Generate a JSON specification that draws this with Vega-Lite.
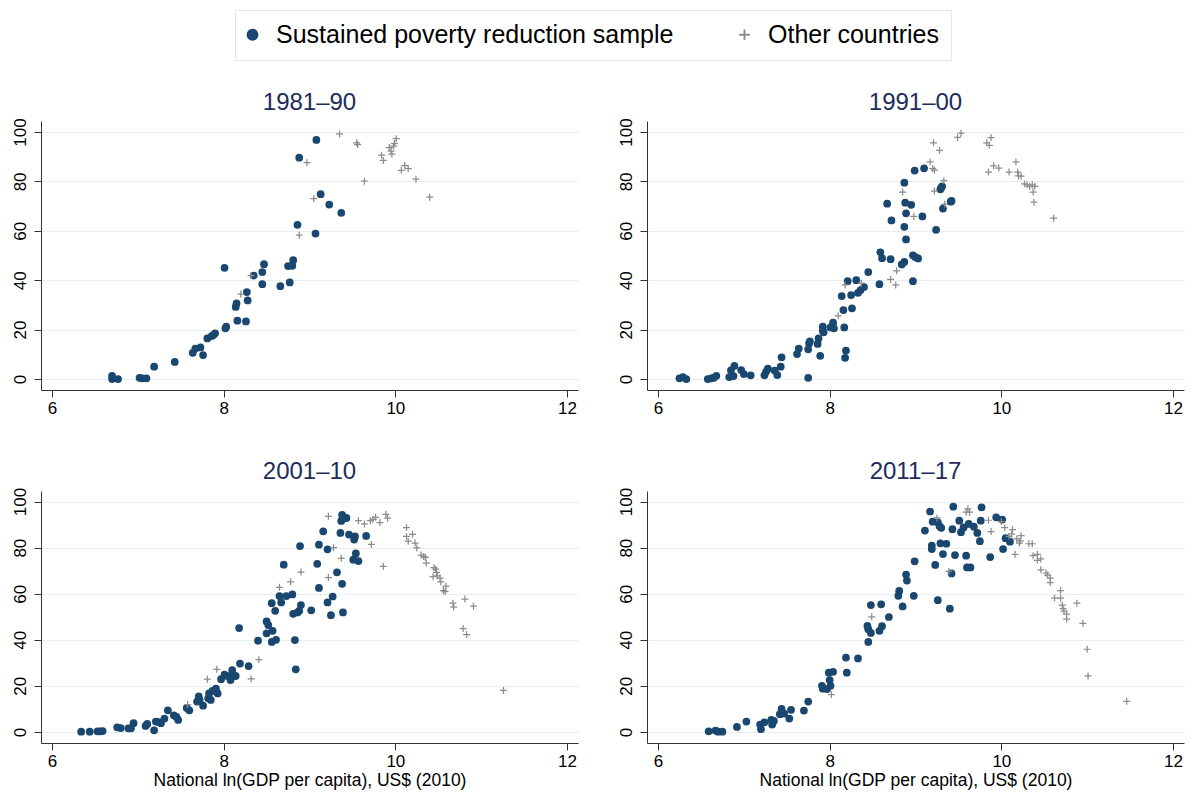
{
"$schema": "https://vega.github.io/schema/vega-lite/v6.json",
"padding": {"left": 10, "top": 9, "right": 5, "bottom": 4},
"background": "white",
"datasets": {
"p1": [
{"x":6.70,"y":1.3,"g":"s"},{"x":6.70,"y":0,"g":"s"},{"x":6.77,"y":0,"g":"s"},{"x":7.02,"y":0.5,"g":"s"},{"x":7.05,"y":0.3,"g":"s"},{"x":7.10,"y":0.3,"g":"s"},{"x":7.19,"y":5.0,"g":"s"},{"x":7.43,"y":6.9,"g":"s"},{"x":7.64,"y":10.6,"g":"s"},{"x":7.67,"y":12.3,"g":"s"},{"x":7.73,"y":12.8,"g":"s"},{"x":7.76,"y":9.7,"g":"s"},{"x":7.81,"y":16.4,"g":"s"},{"x":7.86,"y":17.4,"g":"s"},{"x":7.88,"y":17.8,"g":"s"},{"x":7.90,"y":18.5,"g":"s"},{"x":8.01,"y":45.0,"g":"s"},{"x":8.03,"y":21.2,"g":"s"},{"x":8.02,"y":20.5,"g":"s"},{"x":8.14,"y":29.2,"g":"s"},{"x":8.15,"y":30.6,"g":"s"},{"x":8.16,"y":23.6,"g":"s"},{"x":8.26,"y":23.3,"g":"s"},{"x":8.27,"y":35.2,"g":"s"},{"x":8.28,"y":31.8,"g":"s"},{"x":8.35,"y":41.9,"g":"s"},{"x":8.45,"y":38.4,"g":"s"},{"x":8.45,"y":43.3,"g":"s"},{"x":8.47,"y":46.5,"g":"s"},{"x":8.66,"y":37.6,"g":"s"},{"x":8.75,"y":45.7,"g":"s"},{"x":8.77,"y":39.1,"g":"s"},{"x":8.80,"y":45.8,"g":"s"},{"x":8.81,"y":48.1,"g":"s"},{"x":8.86,"y":62.4,"g":"s"},{"x":8.88,"y":89.6,"g":"s"},{"x":9.07,"y":58.9,"g":"s"},{"x":9.08,"y":96.8,"g":"s"},{"x":9.13,"y":74.8,"g":"s"},{"x":9.23,"y":70.6,"g":"s"},{"x":9.37,"y":67.3,"g":"s"},
{"x":8.20,"y":34.4,"g":"o"},{"x":8.32,"y":41.9,"g":"o"},{"x":8.88,"y":58.2,"g":"o"},{"x":8.97,"y":87.6,"g":"o"},{"x":9.05,"y":73.0,"g":"o"},{"x":9.35,"y":99.2,"g":"o"},{"x":9.55,"y":95.6,"g":"o"},{"x":9.56,"y":94.9,"g":"o"},{"x":9.64,"y":80.1,"g":"o"},{"x":9.84,"y":90.6,"g":"o"},{"x":9.86,"y":88.5,"g":"o"},{"x":9.93,"y":93.7,"g":"o"},{"x":9.95,"y":92.3,"g":"o"},{"x":9.96,"y":91.0,"g":"o"},{"x":9.98,"y":94.3,"g":"o"},{"x":9.99,"y":95.3,"g":"o"},{"x":10.01,"y":97.3,"g":"o"},{"x":10.07,"y":84.5,"g":"o"},{"x":10.11,"y":86.4,"g":"o"},{"x":10.15,"y":85.2,"g":"o"},{"x":10.24,"y":80.9,"g":"o"},{"x":10.40,"y":73.6,"g":"o"}
],
"p2": [
{"x":6.25,"y":0.3,"g":"s"},{"x":6.29,"y":0.8,"g":"s"},{"x":6.33,"y":0,"g":"s"},{"x":6.58,"y":0,"g":"s"},{"x":6.62,"y":0.3,"g":"s"},{"x":6.65,"y":0.5,"g":"s"},{"x":6.68,"y":1.3,"g":"s"},{"x":6.83,"y":0.8,"g":"s"},{"x":6.85,"y":3.5,"g":"s"},{"x":6.88,"y":1.2,"g":"s"},{"x":6.89,"y":5.3,"g":"s"},{"x":6.97,"y":3.6,"g":"s"},{"x":7.00,"y":2.0,"g":"s"},{"x":7.08,"y":1.5,"g":"s"},{"x":7.24,"y":1.5,"g":"s"},{"x":7.26,"y":3.0,"g":"s"},{"x":7.28,"y":4.2,"g":"s"},{"x":7.36,"y":3.4,"g":"s"},{"x":7.39,"y":1.6,"g":"s"},{"x":7.43,"y":5.0,"g":"s"},{"x":7.44,"y":8.8,"g":"s"},{"x":7.62,"y":10.1,"g":"s"},{"x":7.64,"y":12.3,"g":"s"},{"x":7.75,"y":0.5,"g":"s"},{"x":7.75,"y":12.0,"g":"s"},{"x":7.76,"y":14.4,"g":"s"},{"x":7.77,"y":15.2,"g":"s"},{"x":7.86,"y":14.2,"g":"s"},{"x":7.87,"y":16.4,"g":"s"},{"x":7.89,"y":9.4,"g":"s"},{"x":7.92,"y":19.5,"g":"s"},{"x":7.92,"y":21.2,"g":"s"},{"x":7.93,"y":18.9,"g":"s"},{"x":8.01,"y":20.9,"g":"s"},{"x":8.04,"y":22.8,"g":"s"},{"x":8.05,"y":20.5,"g":"s"},{"x":8.14,"y":33.6,"g":"s"},{"x":8.16,"y":27.9,"g":"s"},{"x":8.17,"y":20.9,"g":"s"},{"x":8.19,"y":11.5,"g":"s"},{"x":8.18,"y":8.6,"g":"s"},{"x":8.21,"y":39.6,"g":"s"},{"x":8.25,"y":34.0,"g":"s"},{"x":8.26,"y":28.6,"g":"s"},{"x":8.31,"y":40.0,"g":"s"},{"x":8.33,"y":34.9,"g":"s"},{"x":8.36,"y":36.0,"g":"s"},{"x":8.40,"y":37.2,"g":"s"},{"x":8.45,"y":43.3,"g":"s"},{"x":8.58,"y":38.4,"g":"s"},{"x":8.59,"y":51.3,"g":"s"},{"x":8.61,"y":48.9,"g":"s"},{"x":8.67,"y":71.0,"g":"s"},{"x":8.71,"y":48.5,"g":"s"},{"x":8.72,"y":64.2,"g":"s"},{"x":8.84,"y":46.4,"g":"s"},{"x":8.87,"y":47.4,"g":"s"},{"x":8.87,"y":61.6,"g":"s"},{"x":8.87,"y":79.5,"g":"s"},{"x":8.88,"y":71.4,"g":"s"},{"x":8.89,"y":67.1,"g":"s"},{"x":8.89,"y":56.5,"g":"s"},{"x":8.95,"y":70.5,"g":"s"},{"x":8.97,"y":39.6,"g":"s"},{"x":8.97,"y":50.1,"g":"s"},{"x":9.00,"y":49.3,"g":"s"},{"x":9.03,"y":48.8,"g":"s"},{"x":8.99,"y":84.4,"g":"s"},{"x":9.08,"y":65.8,"g":"s"},{"x":9.10,"y":85.3,"g":"s"},{"x":9.24,"y":60.4,"g":"s"},{"x":9.29,"y":76.8,"g":"s"},{"x":9.30,"y":77.5,"g":"s"},{"x":9.31,"y":78.0,"g":"s"},{"x":9.32,"y":69.0,"g":"s"},{"x":9.41,"y":71.8,"g":"s"},{"x":9.42,"y":72.1,"g":"s"},
{"x":8.10,"y":25.6,"g":"o"},{"x":8.18,"y":38.1,"g":"o"},{"x":8.37,"y":38.8,"g":"o"},{"x":8.71,"y":40.3,"g":"o"},{"x":8.77,"y":38.1,"g":"o"},{"x":8.78,"y":43.8,"g":"o"},{"x":8.85,"y":75.7,"g":"o"},{"x":8.98,"y":65.8,"g":"o"},{"x":9.17,"y":87.9,"g":"o"},{"x":9.20,"y":85.2,"g":"o"},{"x":9.22,"y":84.6,"g":"o"},{"x":9.21,"y":95.6,"g":"o"},{"x":9.28,"y":92.6,"g":"o"},{"x":9.22,"y":76.1,"g":"o"},{"x":9.33,"y":80.3,"g":"o"},{"x":9.34,"y":70.8,"g":"o"},{"x":9.49,"y":97.8,"g":"o"},{"x":9.53,"y":99.5,"g":"o"},{"x":9.83,"y":95.6,"g":"o"},{"x":9.86,"y":94.6,"g":"o"},{"x":9.88,"y":97.7,"g":"o"},{"x":9.85,"y":83.8,"g":"o"},{"x":9.91,"y":86.3,"g":"o"},{"x":9.97,"y":85.4,"g":"o"},{"x":10.09,"y":83.8,"g":"o"},{"x":10.17,"y":87.9,"g":"o"},{"x":10.19,"y":83.8,"g":"o"},{"x":10.20,"y":82.2,"g":"o"},{"x":10.23,"y":82.1,"g":"o"},{"x":10.27,"y":79.0,"g":"o"},{"x":10.30,"y":78.6,"g":"o"},{"x":10.33,"y":78.0,"g":"o"},{"x":10.36,"y":78.6,"g":"o"},{"x":10.37,"y":75.7,"g":"o"},{"x":10.39,"y":78.0,"g":"o"},{"x":10.38,"y":71.6,"g":"o"},{"x":10.61,"y":65.1,"g":"o"}
],
"p3": [
{"x":6.34,"y":0.1,"g":"s"},{"x":6.44,"y":0.1,"g":"s"},{"x":6.53,"y":0.3,"g":"s"},{"x":6.56,"y":0.3,"g":"s"},{"x":6.59,"y":0.4,"g":"s"},{"x":6.76,"y":2.0,"g":"s"},{"x":6.80,"y":1.7,"g":"s"},{"x":6.89,"y":1.6,"g":"s"},{"x":6.92,"y":1.6,"g":"s"},{"x":6.95,"y":3.8,"g":"s"},{"x":7.09,"y":2.6,"g":"s"},{"x":7.11,"y":3.5,"g":"s"},{"x":7.19,"y":0.7,"g":"s"},{"x":7.21,"y":4.5,"g":"s"},{"x":7.24,"y":4.3,"g":"s"},{"x":7.27,"y":3.8,"g":"s"},{"x":7.31,"y":5.8,"g":"s"},{"x":7.35,"y":9.4,"g":"s"},{"x":7.42,"y":7.2,"g":"s"},{"x":7.45,"y":6.5,"g":"s"},{"x":7.47,"y":5.2,"g":"s"},{"x":7.57,"y":10.4,"g":"s"},{"x":7.60,"y":9.4,"g":"s"},{"x":7.69,"y":13.2,"g":"s"},{"x":7.71,"y":15.4,"g":"s"},{"x":7.72,"y":13.8,"g":"s"},{"x":7.76,"y":11.4,"g":"s"},{"x":7.82,"y":14.6,"g":"s"},{"x":7.83,"y":16.7,"g":"s"},{"x":7.85,"y":13.9,"g":"s"},{"x":7.87,"y":17.8,"g":"s"},{"x":7.91,"y":18.8,"g":"s"},{"x":7.93,"y":16.7,"g":"s"},{"x":7.97,"y":22.9,"g":"s"},{"x":8.01,"y":24.9,"g":"s"},{"x":8.05,"y":24.2,"g":"s"},{"x":8.08,"y":22.5,"g":"s"},{"x":8.10,"y":26.8,"g":"s"},{"x":8.12,"y":24.2,"g":"s"},{"x":8.14,"y":24.3,"g":"s"},{"x":8.19,"y":29.7,"g":"s"},{"x":8.18,"y":45.1,"g":"s"},{"x":8.29,"y":28.6,"g":"s"},{"x":8.40,"y":39.6,"g":"s"},{"x":8.50,"y":48.0,"g":"s"},{"x":8.50,"y":42.8,"g":"s"},{"x":8.52,"y":46.4,"g":"s"},{"x":8.56,"y":55.9,"g":"s"},{"x":8.56,"y":39.1,"g":"s"},{"x":8.57,"y":43.9,"g":"s"},{"x":8.60,"y":52.6,"g":"s"},{"x":8.61,"y":40.0,"g":"s"},{"x":8.65,"y":59.0,"g":"s"},{"x":8.67,"y":56.2,"g":"s"},{"x":8.70,"y":72.6,"g":"s"},{"x":8.73,"y":59.0,"g":"s"},{"x":8.80,"y":59.7,"g":"s"},{"x":8.81,"y":51.3,"g":"s"},{"x":8.83,"y":39.9,"g":"s"},{"x":8.84,"y":27.2,"g":"s"},{"x":8.86,"y":51.9,"g":"s"},{"x":8.88,"y":52.6,"g":"s"},{"x":8.89,"y":80.7,"g":"s"},{"x":8.90,"y":55.1,"g":"s"},{"x":9.02,"y":52.8,"g":"s"},{"x":9.09,"y":73.0,"g":"s"},{"x":9.11,"y":81.3,"g":"s"},{"x":9.11,"y":62.5,"g":"s"},{"x":9.16,"y":87.1,"g":"s"},{"x":9.21,"y":56.2,"g":"s"},{"x":9.21,"y":79.3,"g":"s"},{"x":9.25,"y":50.7,"g":"s"},{"x":9.27,"y":58.8,"g":"s"},{"x":9.32,"y":69.3,"g":"s"},{"x":9.36,"y":86.4,"g":"s"},{"x":9.37,"y":91.6,"g":"s"},{"x":9.38,"y":94.2,"g":"s"},{"x":9.38,"y":64.3,"g":"s"},{"x":9.39,"y":51.9,"g":"s"},{"x":9.41,"y":92.9,"g":"s"},{"x":9.43,"y":92.9,"g":"s"},{"x":9.46,"y":85.7,"g":"s"},{"x":9.51,"y":74.8,"g":"s"},{"x":9.52,"y":83.5,"g":"s"},{"x":9.53,"y":84.9,"g":"s"},{"x":9.54,"y":77.5,"g":"s"},{"x":9.57,"y":74.2,"g":"s"},{"x":9.66,"y":85.1,"g":"s"},
{"x":7.58,"y":11.9,"g":"o"},{"x":7.81,"y":22.9,"g":"o"},{"x":7.92,"y":27.2,"g":"o"},{"x":8.32,"y":23.0,"g":"o"},{"x":8.41,"y":31.4,"g":"o"},{"x":8.65,"y":62.8,"g":"o"},{"x":8.78,"y":65.2,"g":"o"},{"x":8.90,"y":69.4,"g":"o"},{"x":9.22,"y":93.6,"g":"o"},{"x":9.22,"y":67.0,"g":"o"},{"x":9.28,"y":80.0,"g":"o"},{"x":9.37,"y":75.4,"g":"o"},{"x":9.57,"y":91.7,"g":"o"},{"x":9.64,"y":90.3,"g":"o"},{"x":9.71,"y":91.7,"g":"o"},{"x":9.74,"y":92.3,"g":"o"},{"x":9.77,"y":93.2,"g":"o"},{"x":9.72,"y":81.4,"g":"o"},{"x":9.82,"y":90.9,"g":"o"},{"x":9.86,"y":71.9,"g":"o"},{"x":9.89,"y":94.5,"g":"o"},{"x":9.91,"y":92.8,"g":"o"},{"x":10.13,"y":88.7,"g":"o"},{"x":10.13,"y":84.9,"g":"o"},{"x":10.15,"y":82.8,"g":"o"},{"x":10.20,"y":85.8,"g":"o"},{"x":10.23,"y":82.0,"g":"o"},{"x":10.25,"y":79.9,"g":"o"},{"x":10.30,"y":76.8,"g":"o"},{"x":10.33,"y":76.2,"g":"o"},{"x":10.35,"y":75.8,"g":"o"},{"x":10.36,"y":73.3,"g":"o"},{"x":10.45,"y":71.3,"g":"o"},{"x":10.47,"y":70.7,"g":"o"},{"x":10.48,"y":69.3,"g":"o"},{"x":10.44,"y":67.4,"g":"o"},{"x":10.49,"y":67.8,"g":"o"},{"x":10.52,"y":66.8,"g":"o"},{"x":10.53,"y":65.2,"g":"o"},{"x":10.56,"y":61.4,"g":"o"},{"x":10.58,"y":60.9,"g":"o"},{"x":10.59,"y":63.3,"g":"o"},{"x":10.67,"y":55.9,"g":"o"},{"x":10.68,"y":54.2,"g":"o"},{"x":10.81,"y":57.7,"g":"o"},{"x":10.79,"y":44.9,"g":"o"},{"x":10.83,"y":42.3,"g":"o"},{"x":10.91,"y":54.6,"g":"o"},{"x":11.26,"y":18.0,"g":"o"}
],
"p4": [
{"x":6.59,"y":0.3,"g":"s"},{"x":6.67,"y":0.6,"g":"s"},{"x":6.70,"y":0.1,"g":"s"},{"x":6.75,"y":0.1,"g":"s"},{"x":6.92,"y":2.2,"g":"s"},{"x":7.03,"y":4.5,"g":"s"},{"x":7.19,"y":3.2,"g":"s"},{"x":7.20,"y":1.2,"g":"s"},{"x":7.24,"y":4.2,"g":"s"},{"x":7.32,"y":5.2,"g":"s"},{"x":7.33,"y":3.2,"g":"s"},{"x":7.35,"y":4.8,"g":"s"},{"x":7.42,"y":7.7,"g":"s"},{"x":7.44,"y":10.0,"g":"s"},{"x":7.47,"y":8.0,"g":"s"},{"x":7.53,"y":5.8,"g":"s"},{"x":7.55,"y":9.6,"g":"s"},{"x":7.70,"y":9.3,"g":"s"},{"x":7.75,"y":13.2,"g":"s"},{"x":7.91,"y":20.0,"g":"s"},{"x":7.92,"y":18.8,"g":"s"},{"x":7.97,"y":18.6,"g":"s"},{"x":7.99,"y":25.7,"g":"s"},{"x":8.00,"y":22.5,"g":"s"},{"x":8.01,"y":20.0,"g":"s"},{"x":8.04,"y":26.1,"g":"s"},{"x":8.19,"y":32.3,"g":"s"},{"x":8.20,"y":25.7,"g":"s"},{"x":8.33,"y":31.9,"g":"s"},{"x":8.45,"y":39.1,"g":"s"},{"x":8.44,"y":46.1,"g":"s"},{"x":8.45,"y":44.6,"g":"s"},{"x":8.48,"y":43.0,"g":"s"},{"x":8.48,"y":55.1,"g":"s"},{"x":8.58,"y":43.9,"g":"s"},{"x":8.61,"y":45.9,"g":"s"},{"x":8.60,"y":55.4,"g":"s"},{"x":8.69,"y":49.9,"g":"s"},{"x":8.80,"y":59.1,"g":"s"},{"x":8.81,"y":61.2,"g":"s"},{"x":8.85,"y":54.5,"g":"s"},{"x":8.89,"y":68.3,"g":"s"},{"x":8.90,"y":65.7,"g":"s"},{"x":8.98,"y":59.1,"g":"s"},{"x":8.99,"y":74.1,"g":"s"},{"x":9.11,"y":87.4,"g":"s"},{"x":9.17,"y":95.7,"g":"s"},{"x":9.19,"y":80.9,"g":"s"},{"x":9.19,"y":79.4,"g":"s"},{"x":9.20,"y":91.3,"g":"s"},{"x":9.23,"y":72.5,"g":"s"},{"x":9.26,"y":57.2,"g":"s"},{"x":9.26,"y":91.0,"g":"s"},{"x":9.28,"y":89.3,"g":"s"},{"x":9.29,"y":81.9,"g":"s"},{"x":9.30,"y":88.6,"g":"s"},{"x":9.32,"y":77.2,"g":"s"},{"x":9.36,"y":81.7,"g":"s"},{"x":9.40,"y":53.5,"g":"s"},{"x":9.42,"y":68.8,"g":"s"},{"x":9.43,"y":88.0,"g":"s"},{"x":9.44,"y":97.8,"g":"s"},{"x":9.46,"y":76.8,"g":"s"},{"x":9.51,"y":91.7,"g":"s"},{"x":9.53,"y":86.7,"g":"s"},{"x":9.56,"y":88.8,"g":"s"},{"x":9.59,"y":76.5,"g":"s"},{"x":9.60,"y":71.4,"g":"s"},{"x":9.62,"y":90.3,"g":"s"},{"x":9.64,"y":71.4,"g":"s"},{"x":9.68,"y":89.1,"g":"s"},{"x":9.72,"y":86.4,"g":"s"},{"x":9.75,"y":82.8,"g":"s"},{"x":9.76,"y":91.7,"g":"s"},{"x":9.77,"y":97.5,"g":"s"},{"x":9.87,"y":75.9,"g":"s"},{"x":9.94,"y":93.2,"g":"s"},{"x":10.01,"y":92.2,"g":"s"},{"x":10.02,"y":79.4,"g":"s"},{"x":10.05,"y":84.1,"g":"s"},{"x":10.10,"y":82.6,"g":"s"},
{"x":8.02,"y":16.2,"g":"o"},{"x":8.49,"y":50.0,"g":"o"},{"x":9.25,"y":92.9,"g":"o"},{"x":9.39,"y":69.7,"g":"o"},{"x":9.59,"y":95.4,"g":"o"},{"x":9.61,"y":96.8,"g":"o"},{"x":9.63,"y":95.4,"g":"o"},{"x":9.85,"y":91.9,"g":"o"},{"x":9.88,"y":87.0,"g":"o"},{"x":10.00,"y":91.3,"g":"o"},{"x":10.04,"y":88.7,"g":"o"},{"x":10.09,"y":84.9,"g":"o"},{"x":10.12,"y":85.9,"g":"o"},{"x":10.13,"y":87.8,"g":"o"},{"x":10.16,"y":77.1,"g":"o"},{"x":10.18,"y":83.8,"g":"o"},{"x":10.21,"y":82.0,"g":"o"},{"x":10.23,"y":85.2,"g":"o"},{"x":10.22,"y":82.9,"g":"o"},{"x":10.32,"y":81.7,"g":"o"},{"x":10.36,"y":81.7,"g":"o"},{"x":10.37,"y":76.5,"g":"o"},{"x":10.42,"y":77.1,"g":"o"},{"x":10.42,"y":74.5,"g":"o"},{"x":10.46,"y":75.1,"g":"o"},{"x":10.46,"y":70.4,"g":"o"},{"x":10.52,"y":69.0,"g":"o"},{"x":10.54,"y":68.1,"g":"o"},{"x":10.57,"y":66.8,"g":"o"},{"x":10.57,"y":64.8,"g":"o"},{"x":10.62,"y":58.1,"g":"o"},{"x":10.69,"y":61.4,"g":"o"},{"x":10.69,"y":58.1,"g":"o"},{"x":10.71,"y":55.1,"g":"o"},{"x":10.72,"y":53.5,"g":"o"},{"x":10.73,"y":52.5,"g":"o"},{"x":10.76,"y":51.2,"g":"o"},{"x":10.76,"y":49.0,"g":"o"},{"x":10.88,"y":55.9,"g":"o"},{"x":10.95,"y":47.1,"g":"o"},{"x":11.00,"y":35.9,"g":"o"},{"x":11.01,"y":24.3,"g":"o"},{"x":11.46,"y":13.3,"g":"o"}
]
},
"vconcat": [
{"hconcat": [
{"data": {"name": "p1"}, "width": 537, "height": 269, "title": "1981–90",
 "mark": {"type": "point", "filled": true, "size": 60, "opacity": 1, "strokeWidth": 0},
 "encoding": {
  "x": {"field": "x", "type": "quantitative", "scale": {"domain": [5.872, 12.128], "nice": false, "zero": false}, "axis": {"values": [6, 8, 10, 12], "title": null}},
  "y": {"field": "y", "type": "quantitative", "scale": {"domain": [-4.45, 104.45], "nice": false, "zero": false}, "axis": {"values": [0, 20, 40, 60, 80, 100], "title": null}},
  "color": {"field": "g", "type": "nominal", "scale": {"domain": ["s", "o"], "range": ["#1a476f", "#8c8c8c"]}, "legend": {"title": null, "labelExpr": "datum.value == 's' ? 'Sustained poverty reduction sample' : 'Other countries'"}},
  "shape": {"field": "g", "type": "nominal", "scale": {"domain": ["s", "o"], "range": ["circle", "M-0.9,-0.16H-0.16V-0.9H0.16V-0.16H0.9V0.16H0.16V0.9H-0.16V0.16H-0.9Z"]}, "legend": {"title": null, "labelExpr": "datum.value == 's' ? 'Sustained poverty reduction sample' : 'Other countries'"}}
 }},
{"data": {"name": "p2"}, "width": 537, "height": 269, "title": "1991–00",
 "mark": {"type": "point", "filled": true, "size": 60, "opacity": 1, "strokeWidth": 0},
 "encoding": {
  "x": {"field": "x", "type": "quantitative", "scale": {"domain": [5.872, 12.128], "nice": false, "zero": false}, "axis": {"values": [6, 8, 10, 12], "title": null}},
  "y": {"field": "y", "type": "quantitative", "scale": {"domain": [-4.45, 104.45], "nice": false, "zero": false}, "axis": {"values": [0, 20, 40, 60, 80, 100], "title": null}},
  "color": {"field": "g", "type": "nominal", "scale": {"domain": ["s", "o"], "range": ["#1a476f", "#8c8c8c"]}, "legend": {"title": null, "labelExpr": "datum.value == 's' ? 'Sustained poverty reduction sample' : 'Other countries'"}},
  "shape": {"field": "g", "type": "nominal", "scale": {"domain": ["s", "o"], "range": ["circle", "M-0.9,-0.16H-0.16V-0.9H0.16V-0.16H0.9V0.16H0.16V0.9H-0.16V0.16H-0.9Z"]}, "legend": {"title": null, "labelExpr": "datum.value == 's' ? 'Sustained poverty reduction sample' : 'Other countries'"}}
 }}
], "spacing": 38, "resolve": {"scale": {"x": "independent", "y": "independent"}}},
{"hconcat": [
{"data": {"name": "p3"}, "width": 537, "height": 252, "title": "2001–10",
 "mark": {"type": "point", "filled": true, "size": 60, "opacity": 1, "strokeWidth": 0},
 "encoding": {
  "x": {"field": "x", "type": "quantitative", "scale": {"domain": [5.872, 12.128], "nice": false, "zero": false}, "axis": {"values": [6, 8, 10, 12], "title": "National ln(GDP per capita), US$ (2010)"}},
  "y": {"field": "y", "type": "quantitative", "scale": {"domain": [-4.8, 104.6], "nice": false, "zero": false}, "axis": {"values": [0, 20, 40, 60, 80, 100], "title": null}},
  "color": {"field": "g", "type": "nominal", "scale": {"domain": ["s", "o"], "range": ["#1a476f", "#8c8c8c"]}, "legend": {"title": null, "labelExpr": "datum.value == 's' ? 'Sustained poverty reduction sample' : 'Other countries'"}},
  "shape": {"field": "g", "type": "nominal", "scale": {"domain": ["s", "o"], "range": ["circle", "M-0.9,-0.16H-0.16V-0.9H0.16V-0.16H0.9V0.16H0.16V0.9H-0.16V0.16H-0.9Z"]}, "legend": {"title": null, "labelExpr": "datum.value == 's' ? 'Sustained poverty reduction sample' : 'Other countries'"}}
 }},
{"data": {"name": "p4"}, "width": 537, "height": 252, "title": "2011–17",
 "mark": {"type": "point", "filled": true, "size": 60, "opacity": 1, "strokeWidth": 0},
 "encoding": {
  "x": {"field": "x", "type": "quantitative", "scale": {"domain": [5.872, 12.128], "nice": false, "zero": false}, "axis": {"values": [6, 8, 10, 12], "title": "National ln(GDP per capita), US$ (2010)"}},
  "y": {"field": "y", "type": "quantitative", "scale": {"domain": [-4.8, 104.6], "nice": false, "zero": false}, "axis": {"values": [0, 20, 40, 60, 80, 100], "title": null}},
  "color": {"field": "g", "type": "nominal", "scale": {"domain": ["s", "o"], "range": ["#1a476f", "#8c8c8c"]}, "legend": {"title": null, "labelExpr": "datum.value == 's' ? 'Sustained poverty reduction sample' : 'Other countries'"}},
  "shape": {"field": "g", "type": "nominal", "scale": {"domain": ["s", "o"], "range": ["circle", "M-0.9,-0.16H-0.16V-0.9H0.16V-0.16H0.9V0.16H0.16V0.9H-0.16V0.16H-0.9Z"]}, "legend": {"title": null, "labelExpr": "datum.value == 's' ? 'Sustained poverty reduction sample' : 'Other countries'"}}
 }}
], "spacing": 38, "resolve": {"scale": {"x": "independent", "y": "independent"}}}
],
"spacing": 44,
"resolve": {"scale": {"x": "independent", "y": "independent"}},
"config": {
 "font": "Liberation Sans",
 "view": {"stroke": null},
 "title": {"font": "Liberation Sans", "fontSize": 24, "fontWeight": "normal", "color": "#1e2b5b", "anchor": "middle", "frame": "group", "offset": 3},
 "axis": {"labelFont": "Liberation Sans", "labelFontSize": 17, "labelColor": "#000000", "domainColor": "#333333", "tickColor": "#333333", "tickSize": 7, "grid": false, "titleFont": "Liberation Sans", "titleFontSize": 17.5, "titleFontWeight": "normal", "titleColor": "#000000", "labelPadding": 3, "titlePadding": 2},
 "axisY": {"grid": true, "gridColor": "#e5eef0", "labelAngle": 270, "labelAlign": "center", "labelBaseline": "alphabetic", "labelPadding": 9},
 "legend": {"orient": "none", "legendX": 194, "legendY": -111, "direction": "horizontal", "labelFont": "Liberation Sans", "labelFontSize": 25, "labelColor": "#000000", "labelLimit": 800, "symbolSize": 140, "symbolStrokeWidth": 0, "symbolOffset": -7, "strokeColor": "#e1e9eb", "fillColor": "#ffffff", "padding": 12, "columnPadding": 65, "labelOffset": 11}
}
}
